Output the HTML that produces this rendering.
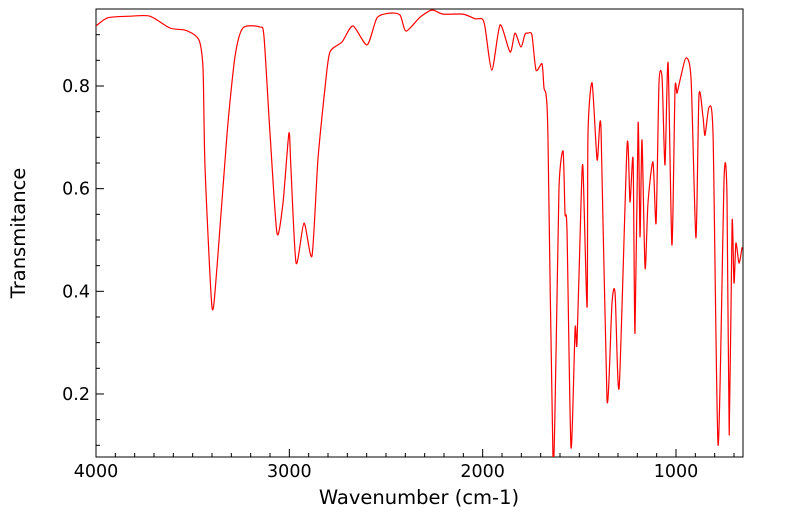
<!DOCTYPE html>
<html><head><meta charset="utf-8"><style>
html,body{margin:0;padding:0;background:#fff;}
svg{display:block;font-family:"DejaVu Sans","Liberation Sans",sans-serif;}
</style></head><body>
<svg id="chart" width="799" height="516"></svg>
<script>
const wavenumbers=[4000,3938,3824,3721,3617,3540,3488,3462,3446,3436,3400,3374,3322,3281,3240,3152,3131,3100,3064,3033,3002,2992,2965,2924,2883,2852,2815,2790,2727,2671,2598,2546,2479,2427,2396,2324,2262,2205,2101,2039,2003,1988,1952,1910,1858,1833,1802,1781,1765,1745,1724,1693,1683,1672,1662,1636,1620,1605,1584,1574,1564,1543,1522,1512,1491,1481,1460,1455,1434,1408,1388,1357,1331,1315,1294,1253,1238,1222,1212,1196,1186,1176,1160,1145,1119,1103,1088,1072,1057,1041,1021,1005,995,979,948,922,897,881,860,850,829,808,782,751,736,725,710,700,690,674,658];
const transmittance=[0.917,0.933,0.936,0.936,0.913,0.909,0.899,0.884,0.831,0.642,0.369,0.447,0.708,0.857,0.913,0.915,0.896,0.708,0.513,0.572,0.708,0.642,0.455,0.533,0.469,0.656,0.798,0.866,0.886,0.917,0.880,0.933,0.942,0.938,0.907,0.934,0.948,0.940,0.940,0.931,0.931,0.915,0.831,0.919,0.866,0.903,0.876,0.901,0.903,0.899,0.831,0.843,0.796,0.782,0.695,0.071,0.285,0.603,0.673,0.552,0.519,0.096,0.328,0.299,0.578,0.640,0.369,0.708,0.806,0.656,0.718,0.188,0.377,0.396,0.213,0.685,0.574,0.656,0.318,0.728,0.506,0.695,0.445,0.572,0.652,0.533,0.806,0.815,0.646,0.845,0.490,0.792,0.786,0.812,0.855,0.812,0.504,0.782,0.738,0.704,0.759,0.701,0.100,0.621,0.584,0.120,0.535,0.416,0.494,0.455,0.486];
const xTickValues=[4000,3000,2000,1000];
const yTickValues=[0.2,0.4,0.6,0.8];

const NS='http://www.w3.org/2000/svg';
const svg=document.getElementById('chart');
const L=96,R=743,T=9,B=457;
const xs=v=>L+(4000-v)*(580/3000);
const ys=v=>86-(v-0.8)*513.3;
function mk(tag,attrs,parent){const e=document.createElementNS(NS,tag);for(const k in attrs)e.setAttribute(k,attrs[k]);(parent||svg).appendChild(e);return e;}

const defs=mk('defs',{});
const cp=mk('clipPath',{id:'pc'},defs);
mk('rect',{x:L,y:T,width:R-L,height:B-T},cp);

const frame=mk('rect',{x:L,y:T,width:R-L,height:B-T,fill:'none',stroke:'#000','stroke-width':1});



for(let w=4000;w>=700;w-=100){
  const x=xs(w);const major=w%1000===0;
  const t=mk('line',{x1:x,x2:x,y1:B,y2:B-(major?8:4),stroke:'#000','stroke-width':1});
  
  
}
xTickValues.forEach(v=>{
  const t=mk('text',{x:xs(v),y:477,'text-anchor':'middle','font-size':17.5});
  t.textContent=String(v);
  
  
});
for(let k=2;k<=19;k++){
  const v=k*0.05;const y=ys(v);
  if(y<T||y>B)continue;
  const major=k%4===0;
  const t=mk('line',{x1:L,x2:L+(major?8:4),y1:y,y2:y,stroke:'#000','stroke-width':1});
  
  
}
yTickValues.forEach(v=>{
  const t=mk('text',{x:90,y:ys(v)+6,'text-anchor':'end','font-size':17.5});
  t.textContent=v.toFixed(1);
  
  
});
const xt=mk('text',{x:419,y:504,'text-anchor':'middle','font-size':19.5});
xt.textContent='Wavenumber (cm-1)';


const yt=mk('text',{x:25,y:233,'text-anchor':'middle','font-size':19.5,transform:'rotate(-90 25 233)'});
yt.textContent='Transmitance';



const P=wavenumbers.map((w,i)=>[xs(w),ys(transmittance[i])]);
let d='M'+P[0][0].toFixed(1)+' '+P[0][1].toFixed(1);
const k=0.12;
for(let i=0;i<P.length-1;i++){
  const p0=P[Math.max(0,i-1)],p1=P[i],p2=P[i+1],p3=P[Math.min(P.length-1,i+2)];
  const c1=[p1[0]+(p2[0]-p0[0])*k,p1[1]+(p2[1]-p0[1])*k];
  const c2=[p2[0]-(p3[0]-p1[0])*k,p2[1]-(p3[1]-p1[1])*k];
  d+='C'+c1[0].toFixed(1)+' '+c1[1].toFixed(1)+' '+c2[0].toFixed(1)+' '+c2[1].toFixed(1)+' '+p2[0].toFixed(1)+' '+p2[1].toFixed(1);
}
const line=mk('path',{d:d,fill:'none',stroke:'#ff0000','stroke-width':1.2,'stroke-linejoin':'round','clip-path':'url(#pc)'});


</script>
</body></html>
